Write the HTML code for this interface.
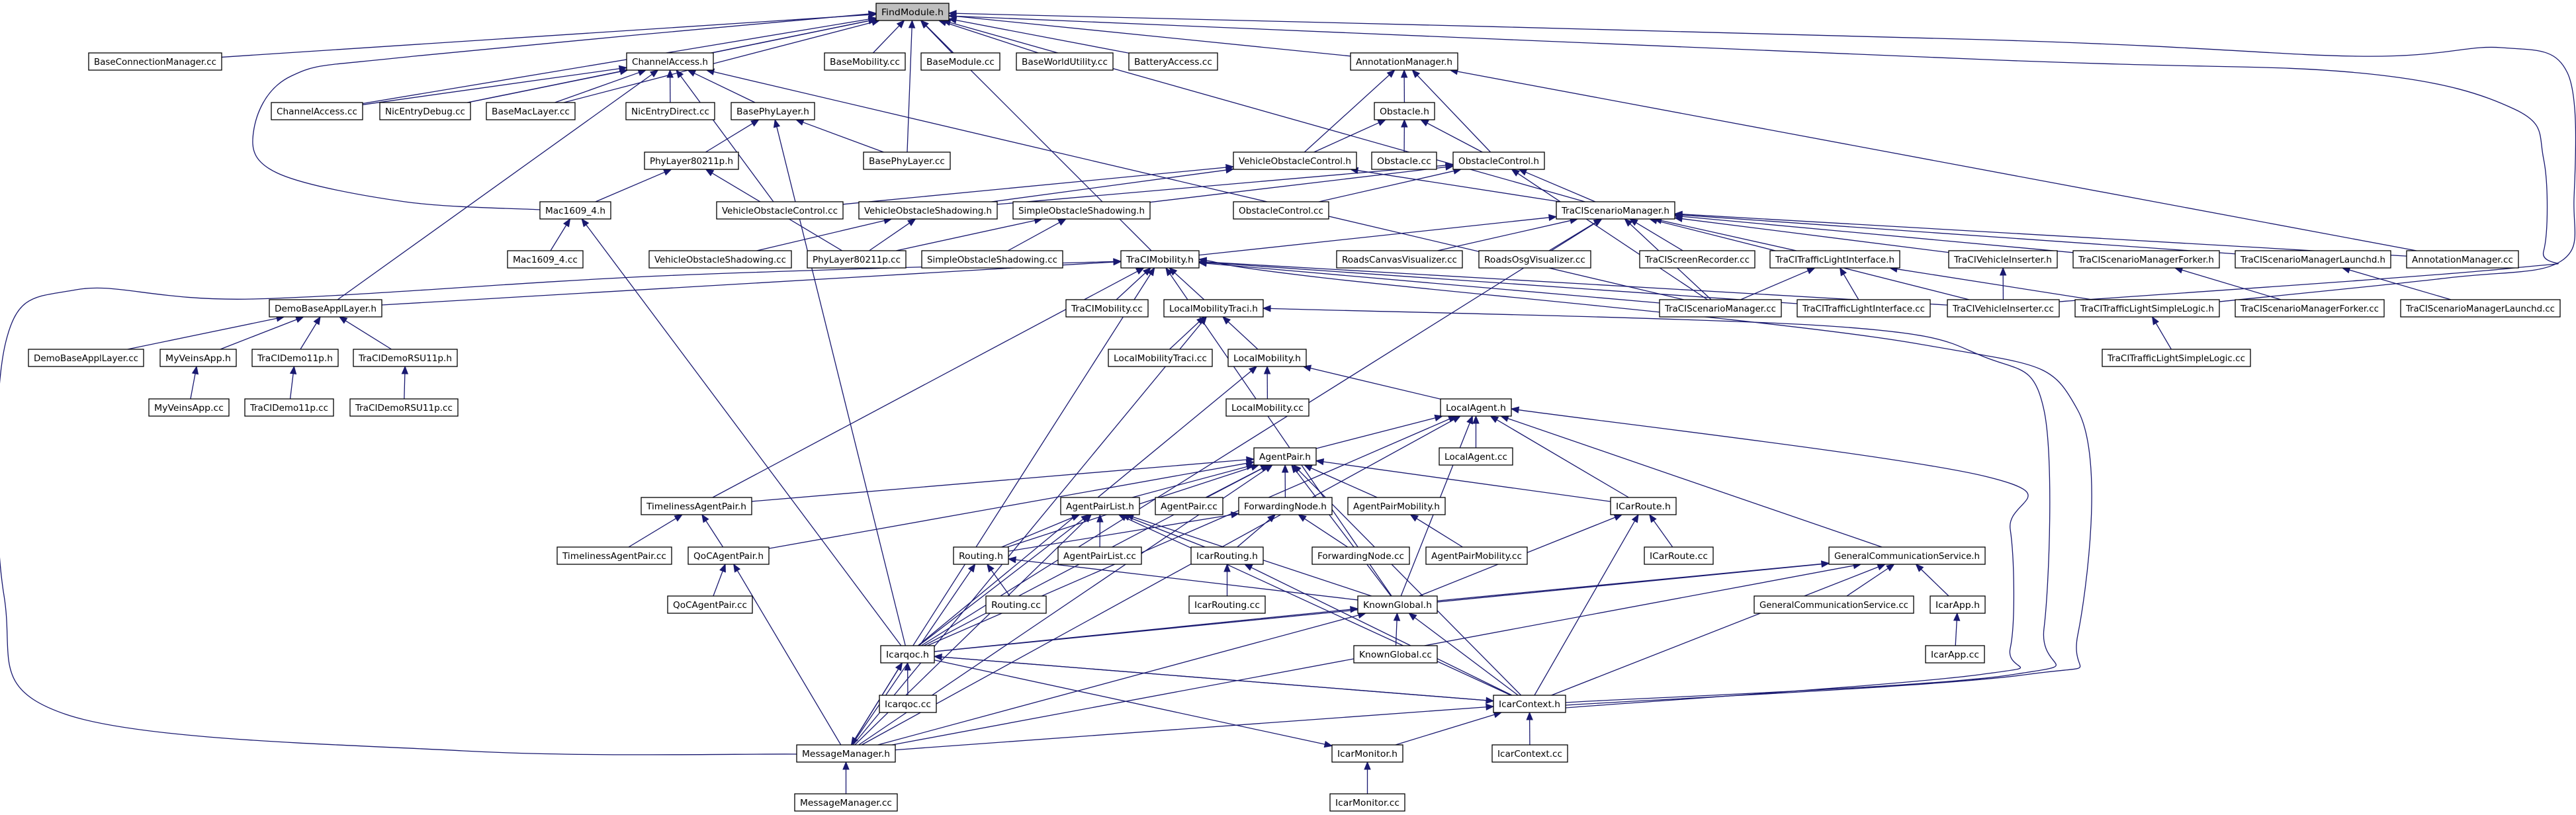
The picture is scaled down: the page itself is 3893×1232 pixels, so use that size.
<!DOCTYPE html>
<html><head><meta charset="utf-8"><style>
html,body{margin:0;padding:0;background:#fff;}
svg{display:block;}
.n rect{fill:#fff;stroke:#000;stroke-width:1.3;}
.n text{font-family:"DejaVu Sans Condensed","DejaVu Sans","Liberation Sans",sans-serif;font-size:13px;text-anchor:middle;fill:#000;}
</style></head><body>
<svg id="s" xmlns="http://www.w3.org/2000/svg" width="3893" height="1232" viewBox="0 0 3893 1232">
<g id="edges"></g>
<g class="n">
<rect id="F" x="1324" y="5" width="110" height="26" style="fill:#bfbfbf"/><text x="1379" y="23" textLength="94" lengthAdjust="spacingAndGlyphs">FindModule.h</text>
<rect id="bcm" x="134" y="80" width="201" height="26"/><text x="234.5" y="98" textLength="185" lengthAdjust="spacingAndGlyphs">BaseConnectionManager.cc</text>
<rect id="cah" x="947" y="80" width="131" height="26"/><text x="1012.5" y="98" textLength="115" lengthAdjust="spacingAndGlyphs">ChannelAccess.h</text>
<rect id="bmob" x="1246" y="80" width="122" height="26"/><text x="1307" y="98" textLength="106" lengthAdjust="spacingAndGlyphs">BaseMobility.cc</text>
<rect id="bmod" x="1392" y="80" width="119" height="26"/><text x="1451.5" y="98" textLength="103" lengthAdjust="spacingAndGlyphs">BaseModule.cc</text>
<rect id="bwu" x="1536" y="80" width="146" height="26"/><text x="1609" y="98" textLength="130" lengthAdjust="spacingAndGlyphs">BaseWorldUtility.cc</text>
<rect id="bat" x="1706" y="80" width="134" height="26"/><text x="1773" y="98" textLength="118" lengthAdjust="spacingAndGlyphs">BatteryAccess.cc</text>
<rect id="amh" x="2041" y="80" width="162" height="26"/><text x="2122" y="98" textLength="146" lengthAdjust="spacingAndGlyphs">AnnotationManager.h</text>
<rect id="cacc" x="410" y="155" width="138" height="26"/><text x="479" y="173" textLength="122" lengthAdjust="spacingAndGlyphs">ChannelAccess.cc</text>
<rect id="ned" x="574" y="155" width="137" height="26"/><text x="642.5" y="173" textLength="121" lengthAdjust="spacingAndGlyphs">NicEntryDebug.cc</text>
<rect id="bml" x="735" y="155" width="134" height="26"/><text x="802" y="173" textLength="118" lengthAdjust="spacingAndGlyphs">BaseMacLayer.cc</text>
<rect id="nedir" x="946" y="155" width="134" height="26"/><text x="1013" y="173" textLength="118" lengthAdjust="spacingAndGlyphs">NicEntryDirect.cc</text>
<rect id="bph" x="1105" y="155" width="126" height="26"/><text x="1168" y="173" textLength="110" lengthAdjust="spacingAndGlyphs">BasePhyLayer.h</text>
<rect id="obh" x="2077" y="155" width="91" height="26"/><text x="2122.5" y="173" textLength="75" lengthAdjust="spacingAndGlyphs">Obstacle.h</text>
<rect id="phyh" x="974" y="230" width="142" height="26"/><text x="1045" y="248" textLength="126" lengthAdjust="spacingAndGlyphs">PhyLayer80211p.h</text>
<rect id="bpcc" x="1305" y="230" width="131" height="26"/><text x="1370.5" y="248" textLength="115" lengthAdjust="spacingAndGlyphs">BasePhyLayer.cc</text>
<rect id="voch" x="1864" y="230" width="186" height="26"/><text x="1957" y="248" textLength="170" lengthAdjust="spacingAndGlyphs">VehicleObstacleControl.h</text>
<rect id="obcc" x="2073" y="230" width="98" height="26"/><text x="2122" y="248" textLength="82" lengthAdjust="spacingAndGlyphs">Obstacle.cc</text>
<rect id="och" x="2196" y="230" width="138" height="26"/><text x="2265" y="248" textLength="122" lengthAdjust="spacingAndGlyphs">ObstacleControl.h</text>
<rect id="mach" x="816" y="305" width="107" height="26"/><text x="869.5" y="323" textLength="91" lengthAdjust="spacingAndGlyphs">Mac1609_4.h</text>
<rect id="voccc" x="1083" y="305" width="191" height="26"/><text x="1178.5" y="323" textLength="175" lengthAdjust="spacingAndGlyphs">VehicleObstacleControl.cc</text>
<rect id="vosh" x="1298" y="305" width="209" height="26"/><text x="1402.5" y="323" textLength="193" lengthAdjust="spacingAndGlyphs">VehicleObstacleShadowing.h</text>
<rect id="sosh" x="1531" y="305" width="207" height="26"/><text x="1634.5" y="323" textLength="191" lengthAdjust="spacingAndGlyphs">SimpleObstacleShadowing.h</text>
<rect id="occ" x="1864" y="305" width="144" height="26"/><text x="1936" y="323" textLength="128" lengthAdjust="spacingAndGlyphs">ObstacleControl.cc</text>
<rect id="tsmh" x="2352" y="305" width="179" height="26"/><text x="2441.5" y="323" textLength="163" lengthAdjust="spacingAndGlyphs">TraCIScenarioManager.h</text>
<rect id="maccc" x="767" y="379" width="114" height="26"/><text x="824" y="397" textLength="98" lengthAdjust="spacingAndGlyphs">Mac1609_4.cc</text>
<rect id="voscc" x="981" y="379" width="215" height="26"/><text x="1088.5" y="397" textLength="199" lengthAdjust="spacingAndGlyphs">VehicleObstacleShadowing.cc</text>
<rect id="phycc" x="1220" y="379" width="149" height="26"/><text x="1294.5" y="397" textLength="133" lengthAdjust="spacingAndGlyphs">PhyLayer80211p.cc</text>
<rect id="soscc" x="1393" y="379" width="213" height="26"/><text x="1499.5" y="397" textLength="197" lengthAdjust="spacingAndGlyphs">SimpleObstacleShadowing.cc</text>
<rect id="tmh" x="1694" y="379" width="118" height="26"/><text x="1753" y="397" textLength="102" lengthAdjust="spacingAndGlyphs">TraCIMobility.h</text>
<rect id="rcv" x="2020" y="379" width="190" height="26"/><text x="2115" y="397" textLength="174" lengthAdjust="spacingAndGlyphs">RoadsCanvasVisualizer.cc</text>
<rect id="rov" x="2235" y="379" width="169" height="26"/><text x="2319.5" y="397" textLength="153" lengthAdjust="spacingAndGlyphs">RoadsOsgVisualizer.cc</text>
<rect id="tsr" x="2478" y="379" width="174" height="26"/><text x="2565" y="397" textLength="158" lengthAdjust="spacingAndGlyphs">TraCIScreenRecorder.cc</text>
<rect id="tlih" x="2675" y="379" width="196" height="26"/><text x="2773" y="397" textLength="180" lengthAdjust="spacingAndGlyphs">TraCITrafficLightInterface.h</text>
<rect id="vih" x="2945" y="379" width="164" height="26"/><text x="3027" y="397" textLength="148" lengthAdjust="spacingAndGlyphs">TraCIVehicleInserter.h</text>
<rect id="smfh" x="3133" y="379" width="221" height="26"/><text x="3243.5" y="397" textLength="205" lengthAdjust="spacingAndGlyphs">TraCIScenarioManagerForker.h</text>
<rect id="smlh" x="3378" y="379" width="235" height="26"/><text x="3495.5" y="397" textLength="219" lengthAdjust="spacingAndGlyphs">TraCIScenarioManagerLaunchd.h</text>
<rect id="amcc" x="3637" y="379" width="169" height="26"/><text x="3721.5" y="397" textLength="153" lengthAdjust="spacingAndGlyphs">AnnotationManager.cc</text>
<rect id="dbah" x="407" y="453" width="170" height="26"/><text x="492" y="471" textLength="154" lengthAdjust="spacingAndGlyphs">DemoBaseApplLayer.h</text>
<rect id="tmcc" x="1611" y="453" width="124" height="26"/><text x="1673" y="471" textLength="108" lengthAdjust="spacingAndGlyphs">TraCIMobility.cc</text>
<rect id="lmth" x="1759" y="453" width="150" height="26"/><text x="1834" y="471" textLength="134" lengthAdjust="spacingAndGlyphs">LocalMobilityTraci.h</text>
<rect id="tsmcc" x="2508" y="453" width="184" height="26"/><text x="2600" y="471" textLength="168" lengthAdjust="spacingAndGlyphs">TraCIScenarioManager.cc</text>
<rect id="tlicc" x="2716" y="453" width="201" height="26"/><text x="2816.5" y="471" textLength="185" lengthAdjust="spacingAndGlyphs">TraCITrafficLightInterface.cc</text>
<rect id="vicc" x="2943" y="453" width="169" height="26"/><text x="3027.5" y="471" textLength="153" lengthAdjust="spacingAndGlyphs">TraCIVehicleInserter.cc</text>
<rect id="tlslh" x="3136" y="453" width="218" height="26"/><text x="3245" y="471" textLength="202" lengthAdjust="spacingAndGlyphs">TraCITrafficLightSimpleLogic.h</text>
<rect id="smfcc" x="3378" y="453" width="225" height="26"/><text x="3490.5" y="471" textLength="209" lengthAdjust="spacingAndGlyphs">TraCIScenarioManagerForker.cc</text>
<rect id="smlcc" x="3628" y="453" width="241" height="26"/><text x="3748.5" y="471" textLength="225" lengthAdjust="spacingAndGlyphs">TraCIScenarioManagerLaunchd.cc</text>
<rect id="dbacc" x="43" y="528" width="174" height="26"/><text x="130" y="546" textLength="158" lengthAdjust="spacingAndGlyphs">DemoBaseApplLayer.cc</text>
<rect id="mvah" x="242" y="528" width="115" height="26"/><text x="299.5" y="546" textLength="99" lengthAdjust="spacingAndGlyphs">MyVeinsApp.h</text>
<rect id="td11h" x="381" y="528" width="130" height="26"/><text x="446" y="546" textLength="114" lengthAdjust="spacingAndGlyphs">TraCIDemo11p.h</text>
<rect id="tdrh" x="534" y="528" width="157" height="26"/><text x="612.5" y="546" textLength="141" lengthAdjust="spacingAndGlyphs">TraCIDemoRSU11p.h</text>
<rect id="lmtcc" x="1675" y="528" width="157" height="26"/><text x="1753.5" y="546" textLength="141" lengthAdjust="spacingAndGlyphs">LocalMobilityTraci.cc</text>
<rect id="lmh" x="1856" y="528" width="118" height="26"/><text x="1915" y="546" textLength="102" lengthAdjust="spacingAndGlyphs">LocalMobility.h</text>
<rect id="tlslcc" x="3177" y="528" width="224" height="26"/><text x="3289" y="546" textLength="208" lengthAdjust="spacingAndGlyphs">TraCITrafficLightSimpleLogic.cc</text>
<rect id="mvacc" x="225" y="603" width="121" height="26"/><text x="285.5" y="621" textLength="105" lengthAdjust="spacingAndGlyphs">MyVeinsApp.cc</text>
<rect id="td11cc" x="370" y="603" width="134" height="26"/><text x="437" y="621" textLength="118" lengthAdjust="spacingAndGlyphs">TraCIDemo11p.cc</text>
<rect id="tdrcc" x="529" y="603" width="163" height="26"/><text x="610.5" y="621" textLength="147" lengthAdjust="spacingAndGlyphs">TraCIDemoRSU11p.cc</text>
<rect id="lmcc" x="1853" y="603" width="125" height="26"/><text x="1915.5" y="621" textLength="109" lengthAdjust="spacingAndGlyphs">LocalMobility.cc</text>
<rect id="lah" x="2177" y="603" width="107" height="26"/><text x="2230.5" y="621" textLength="91" lengthAdjust="spacingAndGlyphs">LocalAgent.h</text>
<rect id="aph" x="1895" y="677" width="94" height="26"/><text x="1942" y="695" textLength="78" lengthAdjust="spacingAndGlyphs">AgentPair.h</text>
<rect id="lacc" x="2175" y="677" width="111" height="26"/><text x="2230.5" y="695" textLength="95" lengthAdjust="spacingAndGlyphs">LocalAgent.cc</text>
<rect id="tap" x="969" y="752" width="167" height="26"/><text x="1052.5" y="770" textLength="151" lengthAdjust="spacingAndGlyphs">TimelinessAgentPair.h</text>
<rect id="aplh" x="1603" y="752" width="119" height="26"/><text x="1662.5" y="770" textLength="103" lengthAdjust="spacingAndGlyphs">AgentPairList.h</text>
<rect id="apcc" x="1746" y="752" width="102" height="26"/><text x="1797" y="770" textLength="86" lengthAdjust="spacingAndGlyphs">AgentPair.cc</text>
<rect id="fnh" x="1872" y="752" width="141" height="26"/><text x="1942.5" y="770" textLength="125" lengthAdjust="spacingAndGlyphs">ForwardingNode.h</text>
<rect id="apmh" x="2037" y="752" width="147" height="26"/><text x="2110.5" y="770" textLength="131" lengthAdjust="spacingAndGlyphs">AgentPairMobility.h</text>
<rect id="icrh" x="2434" y="752" width="99" height="26"/><text x="2483.5" y="770" textLength="83" lengthAdjust="spacingAndGlyphs">ICarRoute.h</text>
<rect id="tapcc" x="842" y="827" width="173" height="26"/><text x="928.5" y="845" textLength="157" lengthAdjust="spacingAndGlyphs">TimelinessAgentPair.cc</text>
<rect id="qoch" x="1040" y="827" width="122" height="26"/><text x="1101" y="845" textLength="106" lengthAdjust="spacingAndGlyphs">QoCAgentPair.h</text>
<rect id="rth" x="1441" y="827" width="83" height="26"/><text x="1482.5" y="845" textLength="67" lengthAdjust="spacingAndGlyphs">Routing.h</text>
<rect id="aplcc" x="1599" y="827" width="126" height="26"/><text x="1662" y="845" textLength="110" lengthAdjust="spacingAndGlyphs">AgentPairList.cc</text>
<rect id="irh" x="1800" y="827" width="109" height="26"/><text x="1854.5" y="845" textLength="93" lengthAdjust="spacingAndGlyphs">IcarRouting.h</text>
<rect id="fncc" x="1983" y="827" width="147" height="26"/><text x="2056.5" y="845" textLength="131" lengthAdjust="spacingAndGlyphs">ForwardingNode.cc</text>
<rect id="apmcc" x="2155" y="827" width="153" height="26"/><text x="2231.5" y="845" textLength="137" lengthAdjust="spacingAndGlyphs">AgentPairMobility.cc</text>
<rect id="icrcc" x="2485" y="827" width="104" height="26"/><text x="2537" y="845" textLength="88" lengthAdjust="spacingAndGlyphs">ICarRoute.cc</text>
<rect id="gcsh" x="2764" y="827" width="236" height="26"/><text x="2882" y="845" textLength="220" lengthAdjust="spacingAndGlyphs">GeneralCommunicationService.h</text>
<rect id="qoccc" x="1009" y="901" width="128" height="26"/><text x="1073" y="919" textLength="112" lengthAdjust="spacingAndGlyphs">QoCAgentPair.cc</text>
<rect id="rtcc" x="1490" y="901" width="91" height="26"/><text x="1535.5" y="919" textLength="75" lengthAdjust="spacingAndGlyphs">Routing.cc</text>
<rect id="ircc" x="1797" y="901" width="115" height="26"/><text x="1854.5" y="919" textLength="99" lengthAdjust="spacingAndGlyphs">IcarRouting.cc</text>
<rect id="kgh" x="2052" y="901" width="120" height="26"/><text x="2112" y="919" textLength="104" lengthAdjust="spacingAndGlyphs">KnownGlobal.h</text>
<rect id="gcscc" x="2651" y="901" width="241" height="26"/><text x="2771.5" y="919" textLength="225" lengthAdjust="spacingAndGlyphs">GeneralCommunicationService.cc</text>
<rect id="iah" x="2917" y="901" width="83" height="26"/><text x="2958.5" y="919" textLength="67" lengthAdjust="spacingAndGlyphs">IcarApp.h</text>
<rect id="iqh" x="1331" y="976" width="81" height="26"/><text x="1371.5" y="994" textLength="65" lengthAdjust="spacingAndGlyphs">Icarqoc.h</text>
<rect id="kgcc" x="2046" y="976" width="126" height="26"/><text x="2109" y="994" textLength="110" lengthAdjust="spacingAndGlyphs">KnownGlobal.cc</text>
<rect id="iacc" x="2910" y="976" width="89" height="26"/><text x="2954.5" y="994" textLength="73" lengthAdjust="spacingAndGlyphs">IcarApp.cc</text>
<rect id="iqcc" x="1329" y="1051" width="86" height="26"/><text x="1372" y="1069" textLength="70" lengthAdjust="spacingAndGlyphs">Icarqoc.cc</text>
<rect id="ich" x="2257" y="1051" width="109" height="26"/><text x="2311.5" y="1069" textLength="93" lengthAdjust="spacingAndGlyphs">IcarContext.h</text>
<rect id="mmh" x="1204" y="1126" width="149" height="26"/><text x="1278.5" y="1144" textLength="133" lengthAdjust="spacingAndGlyphs">MessageManager.h</text>
<rect id="imh" x="2013" y="1126" width="107" height="26"/><text x="2066.5" y="1144" textLength="91" lengthAdjust="spacingAndGlyphs">IcarMonitor.h</text>
<rect id="iccc" x="2255" y="1126" width="114" height="26"/><text x="2312" y="1144" textLength="98" lengthAdjust="spacingAndGlyphs">IcarContext.cc</text>
<rect id="mmcc" x="1201" y="1200" width="155" height="26"/><text x="1278.5" y="1218" textLength="139" lengthAdjust="spacingAndGlyphs">MessageManager.cc</text>
<rect id="imcc" x="2010" y="1200" width="113" height="26"/><text x="2066.5" y="1218" textLength="97" lengthAdjust="spacingAndGlyphs">IcarMonitor.cc</text>
</g>
</svg>
<script>
(function(){
var NS="http://www.w3.org/2000/svg",G=document.getElementById("edges"),C="#191970";
function box(id){var r=document.getElementById(id);return{x:+r.getAttribute("x"),y:+r.getAttribute("y"),w:+r.getAttribute("width"),h:+r.getAttribute("height")};}
function clip(b,dx,dy){var cx=b.x+b.w/2,cy=b.y+b.h/2,t=1e9;if(dx)t=Math.min(t,(b.w/2)/Math.abs(dx));if(dy)t=Math.min(t,(b.h/2)/Math.abs(dy));return[cx+dx*t,cy+dy*t];}
function el(n,a){var e=document.createElementNS(NS,n);for(var k in a)e.setAttribute(k,a[k]);G.appendChild(e);return e;}
function head(tip,ux,uy){var L=11,W=4.5,bx=tip[0]-ux*L,by=tip[1]-uy*L,nx=-uy,ny=ux;
el("polygon",{points:tip[0]+","+tip[1]+" "+(bx+nx*W)+","+(by+ny*W)+" "+(bx-nx*W)+","+(by-ny*W),fill:C,stroke:C,"stroke-width":1});return[bx,by];}
function straight(c,p){var a=box(c),b=box(p);var ax=a.x+a.w/2,ay=a.y+a.h/2,bx=b.x+b.w/2,by=b.y+b.h/2;
var dx=bx-ax,dy=by-ay,l=Math.hypot(dx,dy);dx/=l;dy/=l;var s=clip(a,dx,dy),t=clip(b,-dx,-dy);
var base=head(t,dx,dy);el("path",{d:"M"+s[0]+","+s[1]+"L"+base[0]+","+base[1],fill:"none",stroke:C,"stroke-width":1.3});}
function curve(pts){ // pts[0] is arrow tip at parent
var dx=pts[0][0]-pts[1][0],dy=pts[0][1]-pts[1][1],l=Math.hypot(dx,dy);dx/=l;dy/=l;
var base=head(pts[0],dx,dy);var P=pts.slice();P[0]=base;
var d="M"+P[0][0]+","+P[0][1];
for(var i=0;i<P.length-1;i++){var p0=P[i-1]||P[i],p1=P[i],p2=P[i+1],p3=P[i+2]||P[i+1];
var c1=[p1[0]+(p2[0]-p0[0])/6,p1[1]+(p2[1]-p0[1])/6],c2=[p2[0]-(p3[0]-p1[0])/6,p2[1]-(p3[1]-p1[1])/6];
d+="C"+c1+" "+c2+" "+p2;}
el("path",{d:d,fill:"none",stroke:C,"stroke-width":1.3});}
var E=[
['bcm','F'],['cacc','F'],['ned','F'],['bml','F'],['cah','F'],['bmob','F'],['bmod','F'],['bwu','F'],['bat','F'],['bpcc','F'],['tmh','F'],['amh','F'],['tsmh','F'],
['cacc','cah'],['ned','cah'],['bml','cah'],['dbah','cah'],['nedir','cah'],['bph','cah'],['voccc','cah'],['tsmcc','cah'],
['phyh','bph'],['bpcc','bph'],['iqh','bph'],
['mach','phyh'],['phycc','phyh'],
['maccc','mach'],['iqh','mach'],
['obh','amh'],['voch','amh'],['och','amh'],['amcc','amh'],
['voch','obh'],['obcc','obh'],['och','obh'],
['voccc','voch'],['vosh','voch'],['tsmh','voch'],
['voscc','vosh'],['phycc','vosh'],
['phycc','sosh'],['soscc','sosh'],
['sosh','och'],['occ','och'],['tsmh','och'],['tsmcc','och'],['vosh','och'],
['rcv','tsmh'],['rov','tsmh'],['tsr','tsmh'],['tlih','tsmh'],['vih','tsmh'],['smfh','tsmh'],['smlh','tsmh'],['amcc','tsmh'],['tsmcc','tsmh'],['vicc','tsmh'],['tmh','tsmh'],['iqh','tsmh'],
['tsmcc','tlih'],['tlicc','tlih'],['tlslh','tlih'],
['vicc','vih'],['smfcc','smfh'],['smlcc','smlh'],['tlslcc','tlslh'],
['tmcc','tmh'],['lmth','tmh'],['dbah','tmh'],['tap','tmh'],['iqh','tmh'],['tsmcc','tmh'],['vicc','tmh'],['tlicc','tmh'],['kgh','tmh'],
['dbacc','dbah'],['mvah','dbah'],['td11h','dbah'],['tdrh','dbah'],
['mvacc','mvah'],['td11cc','td11h'],['tdrcc','tdrh'],
['lmtcc','lmth'],['lmh','lmth'],['mmh','lmth'],
['lmcc','lmh'],['lah','lmh'],['iqh','lmh'],
['lacc','lah'],['aph','lah'],['icrh','lah'],['kgh','lah'],['gcsh','lah'],['iqh','lah'],['mmh','lah'],
['apcc','aph'],['aplh','aph'],['fnh','aph'],['apmh','aph'],['icrh','aph'],['tap','aph'],['qoch','aph'],['rth','aph'],['iqh','aph'],['mmh','aph'],['kgh','aph'],['ich','aph'],
['rth','aplh'],['aplcc','aplh'],['irh','aplh'],['kgh','aplh'],['ich','aplh'],['iqh','aplh'],['mmh','aplh'],
['fncc','fnh'],['irh','fnh'],['rth','fnh'],
['apmcc','apmh'],
['icrcc','icrh'],['kgh','icrh'],['ich','icrh'],
['tapcc','tap'],['qoch','tap'],
['qoccc','qoch'],['mmh','qoch'],
['rtcc','rth'],['kgh','rth'],['mmh','rth'],
['ircc','irh'],['ich','irh'],
['gcscc','gcsh'],['iah','gcsh'],['ich','gcsh'],['iqh','gcsh'],['kgh','gcsh'],['mmh','gcsh'],
['iacc','iah'],
['kgcc','kgh'],['ich','kgh'],['iqh','kgh'],['mmh','kgh'],
['iqcc','iqh'],['mmh','iqh'],['ich','iqh'],
['iccc','ich'],['iqh','ich'],['mmh','ich'],['imh','ich'],
['imcc','imh'],['iqh','imh'],
['mmcc','mmh'],['iqh','mmh']
];
E.forEach(function(e){straight(e[0],e[1]);});
curve([[1324,20],[625,85],[440,115],[383,200],[420,262],[612,305],[816,317]]);
curve([[1694,395],[1000,417],[383,452],[115,438],[8,520],[6,900],[100,1080],[700,1135],[1204,1140]]);
curve([[1434,20],[3000,60],[3563,85],[3780,72],[3880,110],[3890,300],[3870,395],[3700,420],[3354,456]]);
curve([[1434,24],[3000,90],[3563,110],[3800,165],[3844,240],[3844,380],[3800,405],[3112,456]]);
curve([[1909,466],[2766,493],[3000,540],[3089,620],[3089,950],[3040,1020],[2366,1062]]);
curve([[1812,392],[2000,420],[2900,520],[3140,620],[3140,960],[3060,1020],[2366,1066]]);
curve([[2284,618],[3000,720],[3038,800],[3038,980],[2990,1020],[2366,1070]]);
})();
</script>
</body></html>
